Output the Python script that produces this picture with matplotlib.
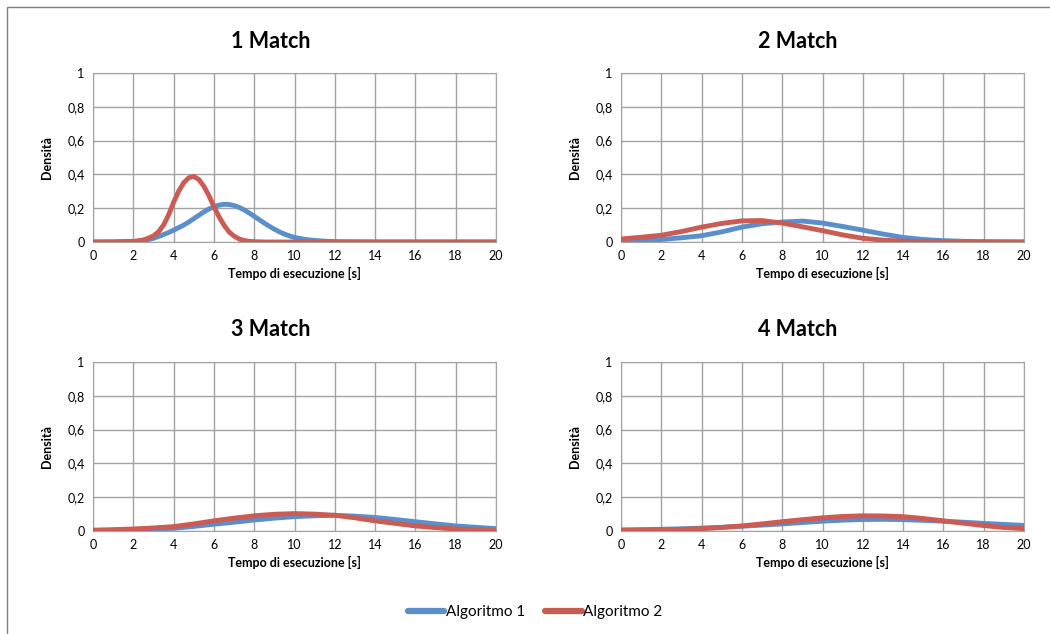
import numpy as np
import matplotlib.pyplot as plt
import matplotlib
from matplotlib.lines import Line2D

matplotlib.rcParams.update({'font.family': ['Lato', 'DejaVu Sans'], 'font.size': 9})

# tempo di esecuzione [s]
x_m1 = [0, 1, 2, 2.25, 2.5, 2.75, 3, 3.25, 3.5, 3.75, 4, 4.25, 4.5, 4.75, 5, 5.25, 5.5, 5.75,
        6, 6.25, 6.5, 6.75, 7, 7.25, 7.5, 7.75, 8, 8.25, 8.5, 8.75, 9, 9.25, 9.5, 9.75, 10,
        10.5, 11, 11.5, 12, 13, 14, 15, 16, 17, 18, 19, 20]
x_step = np.arange(0, 21, 1)

# 1 Match
m1_alg1 = [0, 0, 0.002, 0.004, 0.008, 0.014, 0.022, 0.032, 0.044, 0.056, 0.07, 0.085, 0.1, 0.118,
           0.138, 0.158, 0.178, 0.195, 0.208, 0.218, 0.223, 0.222, 0.216, 0.205, 0.19, 0.172,
           0.152, 0.132, 0.112, 0.093, 0.076, 0.06, 0.047, 0.036, 0.027,
           0.016, 0.009, 0.005, 0.002, 0.001, 0, 0, 0, 0, 0, 0, 0]
m1_alg2 = [0, 0.001, 0.004, 0.007, 0.012, 0.022, 0.036, 0.06, 0.1, 0.16, 0.235, 0.3, 0.35, 0.38,
           0.388, 0.37, 0.33, 0.275, 0.21, 0.15, 0.1, 0.06, 0.035, 0.018, 0.009, 0.004,
           0.002, 0.001, 0, 0, 0, 0, 0, 0, 0,
           0, 0, 0, 0, 0, 0, 0, 0, 0, 0, 0, 0]

# 2, 3, 4 Match
m2_alg1 = [0.004, 0.008, 0.015, 0.025, 0.037, 0.06, 0.088, 0.108, 0.118, 0.124, 0.112, 0.092,
           0.07, 0.047, 0.027, 0.015, 0.008, 0.004, 0.002, 0.001, 0]
m2_alg2 = [0.018, 0.028, 0.04, 0.062, 0.088, 0.11, 0.125, 0.127, 0.112, 0.09, 0.067, 0.042,
           0.022, 0.011, 0.005, 0.002, 0.001, 0, 0, 0, 0]
m3_alg1 = [0.002, 0.004, 0.007, 0.011, 0.016, 0.027, 0.04, 0.052, 0.065, 0.076, 0.085, 0.09,
           0.093, 0.088, 0.08, 0.068, 0.055, 0.042, 0.03, 0.022, 0.014]
m3_alg2 = [0.005, 0.008, 0.012, 0.018, 0.026, 0.042, 0.06, 0.076, 0.09, 0.099, 0.103, 0.1,
           0.093, 0.078, 0.06, 0.045, 0.03, 0.02, 0.012, 0.007, 0.004]
m4_alg1 = [0.007, 0.008, 0.01, 0.013, 0.017, 0.022, 0.028, 0.035, 0.042, 0.05, 0.058, 0.064,
           0.068, 0.069, 0.067, 0.063, 0.058, 0.052, 0.045, 0.039, 0.033]
m4_alg2 = [0.003, 0.005, 0.007, 0.01, 0.014, 0.021, 0.03, 0.042, 0.055, 0.067, 0.078, 0.086,
           0.09, 0.089, 0.085, 0.074, 0.06, 0.046, 0.032, 0.021, 0.014]

titles = ['1 Match', '2 Match', '3 Match', '4 Match']
series = [(x_m1, m1_alg1, m1_alg2), (x_step, m2_alg1, m2_alg2),
          (x_step, m3_alg1, m3_alg2), (x_step, m4_alg1, m4_alg2)]
yticks = [0, 0.2, 0.4, 0.6, 0.8, 1]
ytick_labels = ['0', '0,2', '0,4', '0,6', '0,8', '1']

blue = '#5A8FCC'
red = '#CC5B53'
grid_col = '#A3A3A3'

W, H = 1050, 634
fig = plt.figure(figsize=(10.5, 6.34), dpi=100)

# chart border
fig.add_artist(plt.Rectangle((7 / W, -0.1), 1.2, 1 - 7 / H + 0.1, transform=fig.transFigure,
                             fill=False, edgecolor='#7F7F7F', lw=1))

lefts = [93, 621, 93, 621]
tops = [73, 73, 362, 362]
title_x = [271, 798, 271, 798]
title_y = [41, 41, 330, 330]
aw, ah = 403, 169

for i in range(4):
    ax = fig.add_axes([lefts[i] / W, 1 - (tops[i] + ah) / H, aw / W, ah / H])
    xs, a1, a2 = series[i]
    ax.plot(xs, a1, color=blue, lw=3.5, solid_capstyle='round', solid_joinstyle='round', zorder=3)
    ax.plot(xs, a2, color=red, lw=3.5, solid_capstyle='round', solid_joinstyle='round', zorder=4)
    ax.set_xlim(0, 20)
    ax.set_ylim(0, 1)
    ax.set_xticks(range(0, 21, 2))
    ax.set_yticks(yticks)
    ax.set_yticklabels(ytick_labels)
    ax.grid(True, color=grid_col, lw=1)
    ax.set_axisbelow(True)
    for s in ax.spines.values():
        s.set_color(grid_col)
    ax.tick_params(length=0, labelsize=9, pad=6)
    ax.set_xlabel('Tempo di esecuzione [s]', fontweight='bold', fontsize=9, labelpad=3)
    ax.set_ylabel('Densità', fontweight='bold', fontsize=9, labelpad=10)
    fig.text(title_x[i] / W, 1 - title_y[i] / H, titles[i], ha='center', va='center',
             fontsize=15.5, fontweight='bold')

handles = [Line2D([], [], color=blue, lw=4.5, solid_capstyle='round'),
           Line2D([], [], color=red, lw=4.5, solid_capstyle='round')]
fig.legend(handles, ['Algoritmo 1', 'Algoritmo 2'], loc='center', bbox_to_anchor=(535 / W, 1 - 612 / H),
           ncol=2, frameon=False, fontsize=11, handlelength=2.4, handletextpad=0.1, columnspacing=1.3)

fig.savefig('out.png', dpi=100)
